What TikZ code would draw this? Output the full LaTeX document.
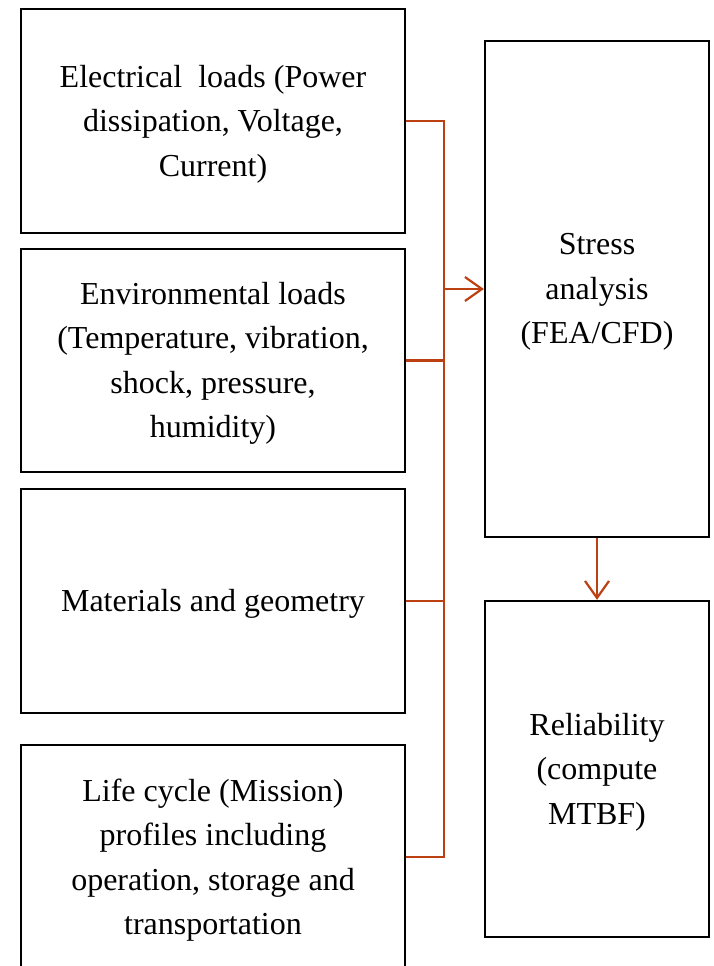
\documentclass[tikz,border=0pt]{standalone}
\usepackage{fontspec}
\setmainfont{Liberation Serif}
\usetikzlibrary{arrows.meta}
\definecolor{conncol}{RGB}{188,64,18}
\begin{document}
\begin{tikzpicture}[x=1bp,y=-1bp,
  box/.style={draw=black,line width=2.3bp,inner sep=0pt},
  leftbox/.style={box,minimum width=384bp,minimum height=224bp},
  rightbox/.style={box,minimum width=224bp},
  txt/.style={inner sep=0pt,align=center,font=\fontsize{32bp}{44.5bp}\selectfont},
  conn/.style={draw=conncol,line width=2.2bp},
  tip/.style={-{Straight Barb[length=17bp,width=24bp,line width=2.2bp]}}]
\useasboundingbox (0,0) rectangle (714,966);
\begin{scope}
\clip (0,0) rectangle (714,966);
\node[leftbox] (b1) at (213,121) {};
\node[leftbox,minimum height=223bp] (b2) at (213,360.5) {};
\node[leftbox] (b3) at (213,601) {};
\node[leftbox] (b4) at (213,857) {};
\node[rightbox,minimum height=496bp] (stress) at (597,289) {};
\node[rightbox,minimum height=336bp] (rel) at (597,769) {};
\node[txt] (t1) at ([yshift=-3bp]b1.center) {Electrical\ \ loads (Power\\dissipation, Voltage,\\Current)};
\node[txt] (t2) at ([yshift=-3bp]b2.center) {Environmental loads\\(Temperature, vibration,\\shock, pressure,\\humidity)};
\node[txt] (t3) at ([yshift=-3bp]b3.center) {Materials and geometry};
\node[txt] (t4) at ([yshift=-3bp]b4.center) {Life cycle (Mission)\\profiles including\\operation, storage and\\transportation};
\node[txt] (t5) at ([yshift=-3bp]stress.center) {Stress\\analysis\\(FEA/CFD)};
\node[txt] (t6) at ([yshift=-3bp]rel.center) {Reliability\\(compute\\MTBF)};
\coordinate (bustop) at (444,121);
\draw[conn] (b1.east) -- (bustop) |- (b4.east);
\draw[conn] (b2.east) -- (b2.east -| bustop);
\draw[conn] (b3.east) -- (b3.east -| bustop);
\draw[conn,tip] (stress.west -| bustop) -- (stress.west);
\draw[conn,tip] (stress.south) -- (rel.north);
\end{scope}
\end{tikzpicture}
\end{document}
